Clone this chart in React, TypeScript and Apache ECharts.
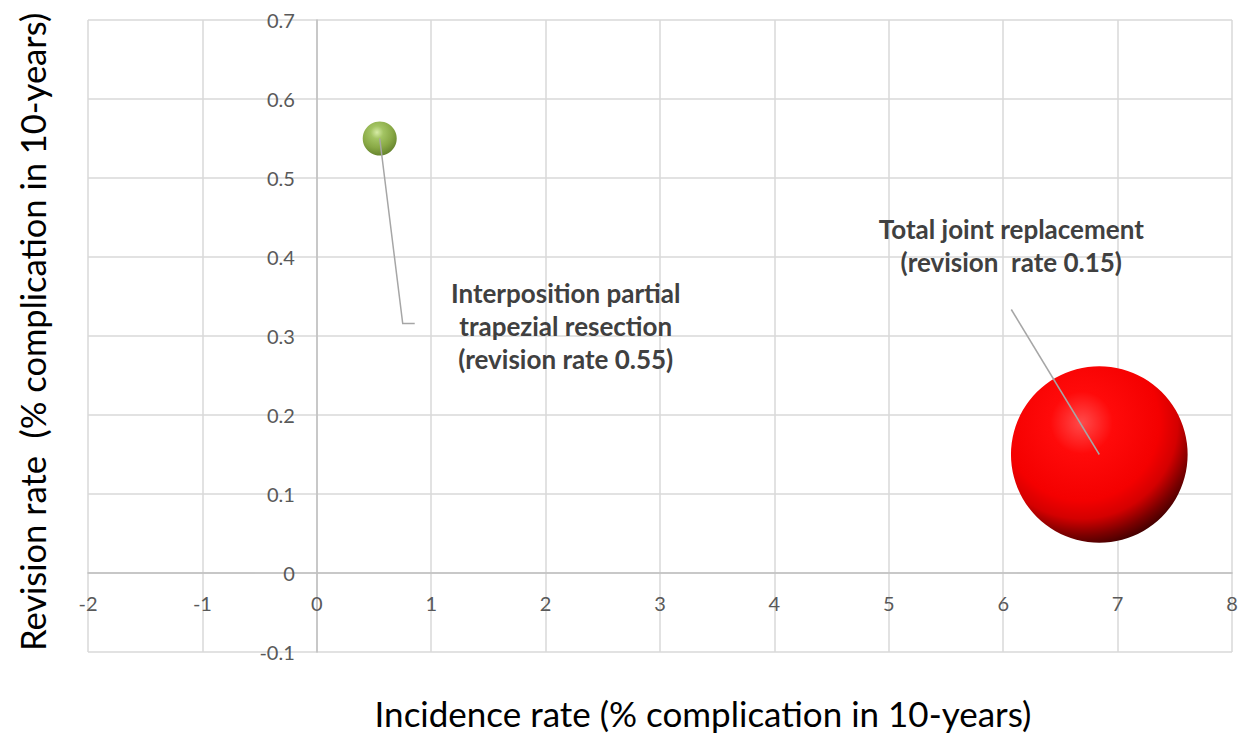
import React, { useEffect, useRef } from "react";
import * as echarts from "echarts";

const incidenceRate = [0.55, 6.84];
const revisionRate = [0.55, 0.15];
const bubbleSize = [1, 27];
const seriesNames = ["Interposition partial trapezial resection", "Total joint replacement"];
const labelTexts = [
  "Interposition partial\ntrapezial resection\n(revision rate 0.55)",
  "Total joint replacement\n(revision  rate 0.15)",
];
const xTitle = "Incidence rate (% complication in 10-years)";
const yTitle = "Revision rate  (% complication in 10-years)";
const xRange = [-2, 8];
const yRange = [-0.1, 0.7];

export default function App() {
  const ref = useRef<HTMLDivElement>(null);
  useEffect(() => {
    const chart = echarts.init(ref.current!, undefined, { renderer: "svg" });
    const font = "Lato";
    const grid = { left: 88, right: 16, top: 20, bottom: 82 };
    const gw = 1248 - grid.left - grid.right;
    const gh = 734 - grid.top - grid.bottom;
    // distance of the zero lines from the grid edges
    const yAxisShift = (gw * (0 - xRange[0])) / (xRange[1] - xRange[0]);
    const xAxisShift = (gh * (0 - yRange[0])) / (yRange[1] - yRange[0]);
    const green = {
      type: "radial", x: 0.42, y: 0.32, r: 0.75,
      colorStops: [
        { offset: 0, color: "#d6eba6" },
        { offset: 0.25, color: "#a3c463" },
        { offset: 0.6, color: "#89a946" },
        { offset: 0.9, color: "#68862f" },
        { offset: 1, color: "#587324" },
      ],
    };
    const red = {
      type: "radial", x: 0.4, y: 0.32, r: 0.8,
      colorStops: [
        { offset: 0, color: "#ff4a4a" },
        { offset: 0.22, color: "#ff0a0a" },
        { offset: 0.55, color: "#f40000" },
        { offset: 0.68, color: "#d40000" },
        { offset: 0.8, color: "#7a0000" },
        { offset: 0.9, color: "#380000" },
        { offset: 1, color: "#5a0000" },
      ],
    };
    const data = incidenceRate.map((x, i) => ({
      name: seriesNames[i],
      value: [x, revisionRate[i], bubbleSize[i]],
      itemStyle: { color: i === 0 ? green : red, opacity: 1 },
    }));
    chart.setOption({
      animation: false,
      textStyle: { fontFamily: font },
      grid: { ...grid, containLabel: false, outerBoundsMode: "none" },
      xAxis: {
        type: "value", min: xRange[0], max: xRange[1], interval: 1,
        offset: -xAxisShift,
        name: xTitle, nameLocation: "middle", nameGap: 122,
        nameTextStyle: { fontSize: 35, color: "#000000", fontFamily: font, padding: [0, 0, 0, 86] },
        axisLine: { onZero: false, lineStyle: { color: "#bfbfbf", width: 1.5 } },
        axisTick: { show: false },
        axisLabel: { fontSize: 20, color: "#595959", margin: 20, fontFamily: font },
        splitLine: { show: true, lineStyle: { color: "#d9d9d9", width: 1.5 } },
      },
      yAxis: {
        type: "value", min: yRange[0], max: yRange[1], interval: 0.1,
        offset: -yAxisShift,
        name: yTitle, nameLocation: "middle", nameGap: 267, nameRotate: 90,
        nameTextStyle: { fontSize: 34.5, color: "#000000", fontFamily: font, padding: [0, 0, 0, 8] },
        axisLine: { onZero: false, lineStyle: { color: "#bfbfbf", width: 1.5 } },
        axisTick: { show: false },
        axisLabel: {
          fontSize: 20, color: "#595959", margin: 22, fontFamily: font,
          formatter: (v: number) => String(Math.round(v * 10) / 10),
        },
        splitLine: { show: true, lineStyle: { color: "#d9d9d9", width: 1.5 } },
      },
      series: [
        {
          type: "scatter",
          data,
          symbolSize: (v: number[]) => 34 * Math.sqrt(v[2]),
          itemStyle: { opacity: 1 },
          z: 5,
        },
      ],
    });
    const p1 = chart.convertToPixel({ gridIndex: 0 }, [incidenceRate[0], revisionRate[0]]);
    const p2 = chart.convertToPixel({ gridIndex: 0 }, [incidenceRate[1], revisionRate[1]]);
    const lineStyle = { stroke: "#a6a6a6", lineWidth: 1.5, fill: null };
    const textStyle = {
      fontFamily: font, fontSize: 26, fontWeight: "bold", fill: "#404040",
      align: "center", verticalAlign: "middle", lineHeight: 33,
    };
    chart.setOption({
      graphic: [
        {
          type: "polyline", z: 100,
          shape: { points: [[p1[0], p1[1]], [p1[0] + 23, p1[1] + 185], [p1[0] + 35, p1[1] + 185]] },
          style: lineStyle,
        },
        {
          type: "text", z: 100, x: p1[0] + 186, y: p1[1] + 187,
          style: { ...textStyle, text: labelTexts[0] },
        },
        {
          type: "line", z: 100,
          shape: { x1: p2[0] - 88, y1: p2[1] - 145, x2: p2[0], y2: p2[1] },
          style: lineStyle,
        },
        {
          type: "text", z: 100, x: p2[0] - 88, y: p2[1] - 209,
          style: { ...textStyle, text: labelTexts[1] },
        },
      ],
    });
    return () => chart.dispose();
  }, []);
  return (
    <div
      ref={ref}
      style={{ position: "fixed", left: 0, top: 0, width: 1248, height: 734, background: "#ffffff" }}
    />
  );
}
